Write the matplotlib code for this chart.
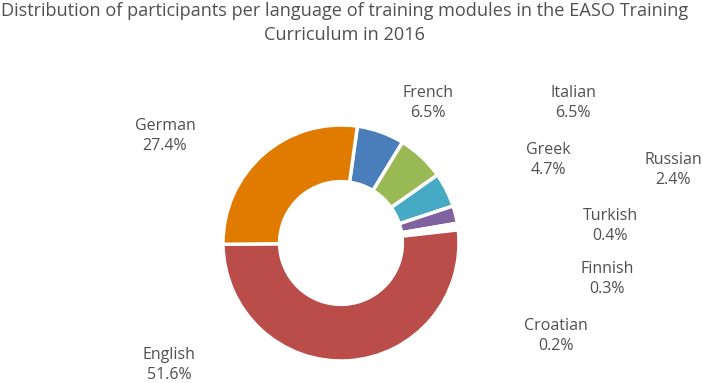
import matplotlib.pyplot as plt

languages = ["French", "Italian", "Greek", "Russian", "Turkish", "Finnish", "Croatian", "English", "German"]
shares = [6.5, 6.5, 4.7, 2.4, 0.4, 0.3, 0.2, 51.6, 27.4]
colors = ["#4A7EBB", "#98B954", "#46AAC4", "#7F63A1", "#FFFFFF", "#FFFFFF", "#FFFFFF", "#BA4D49", "#E07B00"]

# where the labels sit, in pixels from the top-left corner
label_px = [(428, 103), (573, 103), (548, 160), (673, 170), (610, 226),
            (607, 279), (556, 336), (169, 365), (165, 136)]

W, H = 703, 383
fig = plt.figure(figsize=(W / 100, H / 100), dpi=100)
plt.rcParams['font.family'] = ['Open Sans', 'DejaVu Sans']

cx, cy, r = 341, 243, 118
ax = fig.add_axes([(cx - r) / W, (H - cy - r) / H, 2 * r / W, 2 * r / H])
ax.pie(shares, colors=colors, startangle=82, counterclock=False, radius=1,
       wedgeprops=dict(width=0.48, edgecolor="white", linewidth=2.5))
ax.set_xlim(-1, 1)
ax.set_ylim(-1, 1)
ax.set_aspect("equal")
ax.axis("off")

for name, val, (px, py) in zip(languages, shares, label_px):
    fig.text(px / W, 1 - py / H, f"{name}\n{val}%", ha="center", va="center",
             fontsize=11.5, color="#505050", linespacing=1.4)

fig.text(0.49, 1 - 11 / H, "Distribution of participants per language of training modules in the EASO Training",
         ha="center", va="center", fontsize=13.1, color="#505050")
fig.text(0.49, 1 - 35 / H, "Curriculum in 2016", ha="center", va="center", fontsize=13.1, color="#505050")

fig.savefig("out.png", dpi=100)
